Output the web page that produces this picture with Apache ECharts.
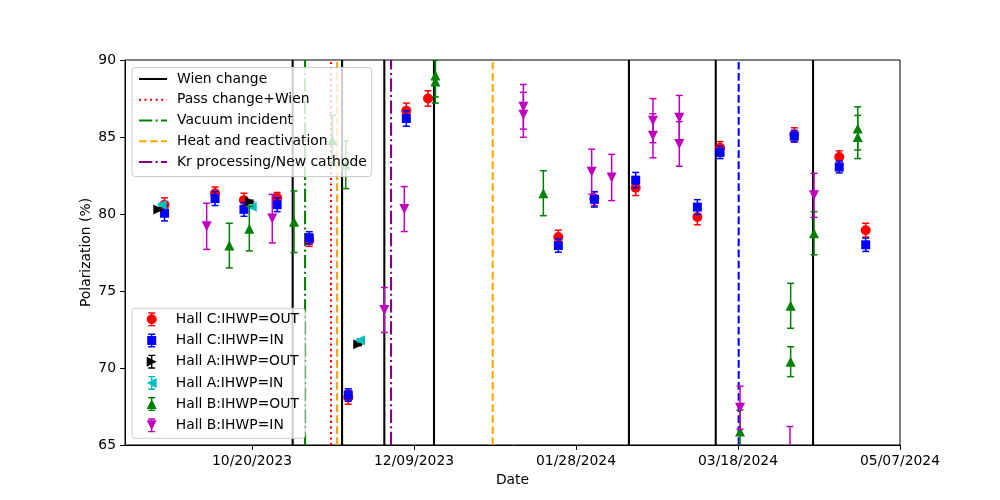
<!DOCTYPE html>
<html>
<head>
<meta charset="utf-8">
<script src="https://cdn.jsdelivr.net/npm/echarts@6/dist/echarts.min.js"></script>
<style>html,body{margin:0;padding:0;background:#fff}#c{width:1000px;height:500px}</style>
</head>
<body>
<div id="c"></div>
<script>
// ---------- data ----------
const xTickDates = ['2023-10-20','2023-12-09','2024-01-28','2024-03-18','2024-05-07'];
const xRange = ['2023-09-10 19:00','2024-05-07'];
const yTicks = [65,70,75,80,85,90];

const hallCOutDates = ['2023-09-23','2023-10-08 14:00','2023-10-17 12:00','2023-10-27 18:00','2023-11-06 16:00','2023-11-18 17:00','2023-12-06 15:00','2023-12-13 08:00','2024-01-22 13:00','2024-02-02 16:00','2024-02-15 10:00','2024-03-05 11:00','2024-03-12 11:00','2024-04-04 09:00','2024-04-18 06:00','2024-04-26 10:00'];
const hallCOutVals = [80.6,81.35,80.9,81.05,78.3,68.1,86.7,87.5,78.5,81.0,81.7,79.8,84.3,85.15,83.7,78.95];
const hallCOutErr  = [0.45,0.4,0.45,0.35,0.4,0.45,0.5,0.5,0.45,0.45,0.5,0.5,0.4,0.45,0.4,0.45];

const hallCInDates = ['2023-09-23','2023-10-08 14:00','2023-10-17 12:00','2023-10-27 18:00','2023-11-06 16:00','2023-11-18 17:00','2023-12-06 15:00','2024-01-22 13:00','2024-02-02 16:00','2024-02-15 10:00','2024-03-05 11:00','2024-03-12 11:00','2024-04-04 09:00','2024-04-18 06:00','2024-04-26 10:00'];
const hallCInVals = [80.05,81.0,80.3,80.6,78.45,68.25,86.2,77.95,80.95,82.2,80.45,84.0,85.05,83.05,78.0];
const hallCInErr  = [0.5,0.45,0.45,0.45,0.4,0.4,0.5,0.43,0.5,0.5,0.48,0.4,0.38,0.38,0.43];

const hallAOutDates = ['2023-09-21 02:00','2023-10-19 09:00','2023-11-21 19:00'];
const hallAOutVals = [80.3,80.8,71.55];
const hallAOutErr  = [0.1,0.1,0.1];

const hallAInDates = ['2023-09-22 03:00','2023-10-19 22:00','2023-11-22 08:00'];
const hallAInVals = [80.6,80.47,71.8];
const hallAInErr  = [0.1,0.1,0.1];

const hallBOutDates = ['2023-10-13','2023-10-19 04:00','2023-11-01 23:00','2023-11-13 19:00','2023-11-17 22:00','2023-12-15 14:00','2023-12-15 14:00','2024-01-17 22:00','2024-03-18 15:00','2024-04-03 06:00','2024-04-03 06:00','2024-04-10 11:00','2024-04-23 23:00','2024-04-23 23:00'];
const hallBOutVals = [77.95,79.05,79.5,84.8,83.2,89.0,88.6,81.35,65.87,74.04,70.41,78.75,85.56,85.0];
const hallBOutErr  = [1.45,1.45,2.0,1.6,1.55,1.4,1.4,1.46,1.4,1.46,0.97,1.4,1.4,1.4];

const hallBInDates = ['2023-10-06','2023-10-26 06:00','2023-11-29 20:00','2023-12-06','2024-01-11 18:00','2024-01-11 18:00','2024-02-01 20:00','2024-02-08','2024-02-20 18:00','2024-02-20 18:00','2024-02-28 21:00','2024-02-28 21:00','2024-03-18 15:00','2024-04-03 01:00','2024-04-10 11:00'];
const hallBInVals = [79.2,79.7,73.77,80.32,86.96,86.44,82.75,82.37,86.06,85.08,86.25,84.55,67.42,64.75,81.21];
const hallBInErr  = [1.5,1.58,1.46,1.46,1.45,1.46,1.46,1.5,1.43,1.43,1.45,1.45,1.4,1.45,1.43];

const wienDates = ['2023-11-01 13:00','2023-11-16 19:00','2023-11-29 20:00','2023-12-15 04:00','2024-02-13 08:00','2024-03-11 03:00','2024-04-10 04:00'];
const passDates = ['2023-11-13 09:00'];
const vacuumDates = ['2023-11-05 09:00'];
const heatDates = ['2023-11-15 06:00','2024-01-02 07:00'];
const krDates = ['2023-12-01 22:00'];
const blueDates = ['2024-03-18 05:00'];

// ---------- helpers ----------
function toMs(s){
  const parts = s.split(' ');
  const d = parts[0].split('-').map(Number);
  let h = 0, mi = 0;
  if (parts[1]) { const t = parts[1].split(':').map(Number); h = t[0]; mi = t[1]; }
  return Date.UTC(d[0], d[1]-1, d[2], h, mi);
}
function fmt(v){
  const d = new Date(v);
  const p = n => (n < 10 ? '0' : '') + n;
  return p(d.getUTCMonth()+1) + '/' + p(d.getUTCDate()) + '/' + d.getUTCFullYear();
}
const FONT = 'DejaVu Sans';
const FS = 13.9;
const PT = 100/72;
const DASHED = [3.7*1.5*PT, 1.6*1.5*PT];
const DOTTED = [1*1.5*PT, 1.65*1.5*PT];
const DASHDOT = [6.4*1.5*PT, 1.6*1.5*PT, 1*1.5*PT, 1.6*1.5*PT];
const NOSYM = 'path://M0,0 L1,1';

const series = [];
function vlines(name, dates, color, type){
  dates.forEach(d => {
    const t = toMs(d);
    series.push({
      type: 'line', name: name, data: [[t,65],[t,90]], symbol: NOSYM, showSymbol: false, silent: true,
      color: color, itemStyle: {color: 'rgba(0,0,0,0)', borderWidth: 0},
      lineStyle: {color: color, width: 2.08, type: type}, z: 1, animation: false
    });
  });
}
vlines('Wien change', wienDates, '#000000', 'solid');
vlines('Pass change+Wien', passDates, '#ff0000', DOTTED);
vlines('Vacuum incident', vacuumDates, '#008000', DASHDOT);
vlines('Heat and reactivation', heatDates, '#ffa500', DASHED);
vlines('Kr processing/New cathode', krDates, '#800080', DASHDOT);
vlines('_blue', blueDates, '#0000ff', DASHED);

function errRender(color){
  return function(params, api){
    const x = api.value(0), y = api.value(1), e = api.value(2);
    const a = api.coord([x, y+e]), b = api.coord([x, y-e]);
    const cw = 3.5, st = {stroke: color, lineWidth: 1.5};
    return {type: 'group', children: [
      {type: 'line', shape: {x1: a[0], y1: a[1], x2: b[0], y2: b[1]}, style: st},
      {type: 'line', shape: {x1: a[0]-cw, y1: a[1], x2: a[0]+cw, y2: a[1]}, style: st},
      {type: 'line', shape: {x1: b[0]-cw, y1: b[1], x2: b[0]+cw, y2: b[1]}, style: st}
    ]};
  };
}
let zi = 3;
function pts(name, dates, vals, errs, color, symbol, size, rot){
  series.push({
    type: 'custom', name: name + ' err', renderItem: errRender(color), clip: true,
    data: dates.map((d,i) => [toMs(d), vals[i], errs[i]]),
    encode: {x: 0, y: 1}, z: zi++, silent: true, animation: false
  });
  series.push({
    type: 'scatter', name: name, data: dates.map((d,i) => [toMs(d), vals[i]]),
    symbol: symbol, symbolSize: size, symbolRotate: rot, clip: true,
    itemStyle: {color: color, opacity: 1}, color: color, z: zi++, silent: true, animation: false
  });
}
pts('Hall C:IHWP=OUT', hallCOutDates, hallCOutVals, hallCOutErr, '#ff0000', 'circle', 10, 0);
pts('Hall C:IHWP=IN', hallCInDates, hallCInVals, hallCInErr, '#0000ff', 'rect', 9, 0);
pts('Hall A:IHWP=OUT', hallAOutDates, hallAOutVals, hallAOutErr, '#000000', 'triangle', 10, -90);
pts('Hall A:IHWP=IN', hallAInDates, hallAInVals, hallAInErr, '#00bfbf', 'triangle', 10, 90);
pts('Hall B:IHWP=OUT', hallBOutDates, hallBOutVals, hallBOutErr, '#008000', 'triangle', 10, 0);
pts('Hall B:IHWP=IN', hallBInDates, hallBInVals, hallBInErr, '#bf00bf', 'triangle', 10, 180);

const BAR = 'M4.3,0 L5.7,0 L5.7,14 L4.3,14 Z M1.5,0 L8.5,0 L8.5,1.4 L1.5,1.4 Z M1.5,12.6 L8.5,12.6 L8.5,14 L1.5,14 Z ';
const ICONS = {
  circle: 'path://' + BAR + 'M0,7 A5,5 0 1,1 10,7 A5,5 0 1,1 0,7 Z',
  rect: 'path://' + BAR + 'M0.5,2.5 L9.5,2.5 L9.5,11.5 L0.5,11.5 Z',
  right: 'path://' + BAR + 'M0,2 L10,7 L0,12 Z',
  left: 'path://' + BAR + 'M10,2 L10,12 L0,7 Z',
  up: 'path://' + BAR + 'M5,2 L10,12 L0,12 Z',
  down: 'path://' + BAR + 'M0,2 L10,2 L5,12 Z'
};

const legendBase = {
  orient: 'vertical', backgroundColor: 'rgba(255,255,255,0.8)', borderColor: '#cccccc',
  borderWidth: 1, borderRadius: 3, selectedMode: false, z: 20
};

const option = {
  animation: false,
  backgroundColor: '#ffffff',
  grid: {left: 125, right: 100, top: 60, bottom: 55, show: true, borderColor: '#000', borderWidth: 1, containLabel: false},
  xAxis: {
    type: 'value', min: toMs(xRange[0]), max: toMs(xRange[1]),
    name: 'Date', nameLocation: 'middle', nameGap: 27,
    nameTextStyle: {fontFamily: FONT, fontSize: FS, color: '#000'},
    axisLine: {show: true, lineStyle: {color: '#000', width: 1}},
    axisTick: {show: true, length: 4.9, lineStyle: {color: '#000'}, customValues: xTickDates.map(toMs)},
    axisLabel: {fontFamily: FONT, fontSize: FS, color: '#000', margin: 9, customValues: xTickDates.map(toMs), formatter: fmt},
    splitLine: {show: false}
  },
  yAxis: {
    type: 'value', min: yTicks[0], max: yTicks[yTicks.length-1], interval: 5,
    name: 'Polarization (%)', nameLocation: 'middle', nameGap: 32, nameMoveOverlap: false,
    nameTextStyle: {fontFamily: FONT, fontSize: FS, color: '#000'},
    axisLine: {show: true, lineStyle: {color: '#000', width: 1}},
    axisTick: {show: true, length: 4.9, lineStyle: {color: '#000'}},
    axisLabel: {fontFamily: FONT, fontSize: FS, color: '#000', margin: 9},
    splitLine: {show: false}
  },
  legend: [
    Object.assign({}, legendBase, {
      left: 132, top: 67.5, itemWidth: 28, itemHeight: 14, itemGap: 6.75,
      padding: [4.5, 5, 7.5, 6],
      itemStyle: {color: 'rgba(0,0,0,0)', borderColor: 'rgba(0,0,0,0)', borderWidth: 0, opacity: 0},
      textStyle: {fontFamily: FONT, fontSize: FS, color: '#000', lineHeight: 14, padding: [0,0,0,5]},
      data: ['Wien change','Pass change+Wien','Vacuum incident','Heat and reactivation','Kr processing/New cathode']
    }),
    Object.assign({}, legendBase, {
      left: 132, top: 308.3, itemWidth: 10, itemHeight: 14, itemGap: 7.2, symbolRotate: 0,
      padding: [4, 6, 6, 14.7],
      textStyle: {fontFamily: FONT, fontSize: FS, color: '#000', lineHeight: 14, padding: [0,0,0,14]},
      data: [
        {name: 'Hall C:IHWP=OUT', icon: ICONS.circle},
        {name: 'Hall C:IHWP=IN', icon: ICONS.rect},
        {name: 'Hall A:IHWP=OUT', icon: ICONS.right},
        {name: 'Hall A:IHWP=IN', icon: ICONS.left},
        {name: 'Hall B:IHWP=OUT', icon: ICONS.up},
        {name: 'Hall B:IHWP=IN', icon: ICONS.down}
      ]
    })
  ],
  series: series
};
const chart = echarts.init(document.getElementById('c'), null, {renderer: 'canvas'});
chart.setOption(option);
</script>
</body>
</html>
